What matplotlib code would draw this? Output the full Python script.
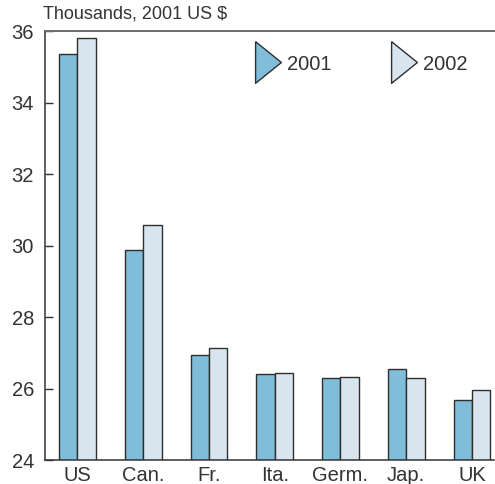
import matplotlib
matplotlib.use("Agg")
import matplotlib.pyplot as plt
from matplotlib.lines import Line2D
import numpy as np

categories = ["US", "Can.", "Fr.", "Ita.", "Germ.", "Jap.", "UK"]
values_2001 = [35.35, 29.88, 26.95, 26.41, 26.30, 26.55, 25.68]
values_2002 = [35.80, 30.58, 27.12, 26.43, 26.33, 26.29, 25.97]
series_labels = ["2001", "2002"]
yticks = [24, 26, 28, 30, 32, 34, 36]

c2001 = "#7fbdd9"
c2002 = "#d8e5ee"
edge = "#2e2e2e"
txt = "#333333"

plt.rcParams['font.family'] = ['Liberation Sans', 'DejaVu Sans']

fig = plt.figure(figsize=(4.95, 4.84), dpi=100)
ax = fig.add_axes([45/495, 1-460/484, 449/495, (460-31)/484])

x = np.arange(len(categories))
w = 0.28
ax.bar(x - w/2, values_2001, width=w, color=c2001, edgecolor=edge, linewidth=1.0)
ax.bar(x + w/2, values_2002, width=w, color=c2002, edgecolor=edge, linewidth=1.0)

ax.set_ylim(24, 36)
ax.set_xlim(-0.494, 6.335)
ax.set_yticks(yticks)
ax.set_yticklabels([str(t) for t in yticks])
ax.set_xticks(x)
ax.set_xticklabels(categories)

ax.tick_params(axis='y', direction='in', length=6, width=1, color=txt, pad=8,
               labelsize=14.5, labelcolor=txt)
ax.tick_params(axis='x', length=0, pad=4, labelsize=14.5, labelcolor=txt)

ax.spines['right'].set_visible(False)
ax.spines['top'].set_color("#6e6e6e")
ax.spines['top'].set_linewidth(1.4)
ax.spines['left'].set_color(txt)
ax.spines['bottom'].set_color(txt)
ax.spines['left'].set_linewidth(1.1)
ax.spines['bottom'].set_linewidth(1.1)

ax.text(-0.004, 1.02, "Thousands, 2001 US $", transform=ax.transAxes,
        ha='left', va='bottom', fontsize=13, color=txt)

tri = [(-0.62, 1.0), (0.62, 0.0), (-0.62, -1.0), (-0.62, 1.0)]
handles = [
    Line2D([], [], marker=tri, linestyle='none', markersize=30,
           markerfacecolor=c2001, markeredgecolor=edge, markeredgewidth=1.0),
    Line2D([], [], marker=tri, linestyle='none', markersize=30,
           markerfacecolor=c2002, markeredgecolor=edge, markeredgewidth=1.0),
]
leg = ax.legend(handles, series_labels, loc='center left',
                bbox_to_anchor=((255-45)/449, 1-(64-31)/429), ncol=2,
                frameon=False, fontsize=14.5, handlelength=1.3,
                handletextpad=0.3, columnspacing=2.95, borderpad=0,
                borderaxespad=0)
for t in leg.get_texts():
    t.set_color(txt)

fig.savefig("out.png", dpi=100)
